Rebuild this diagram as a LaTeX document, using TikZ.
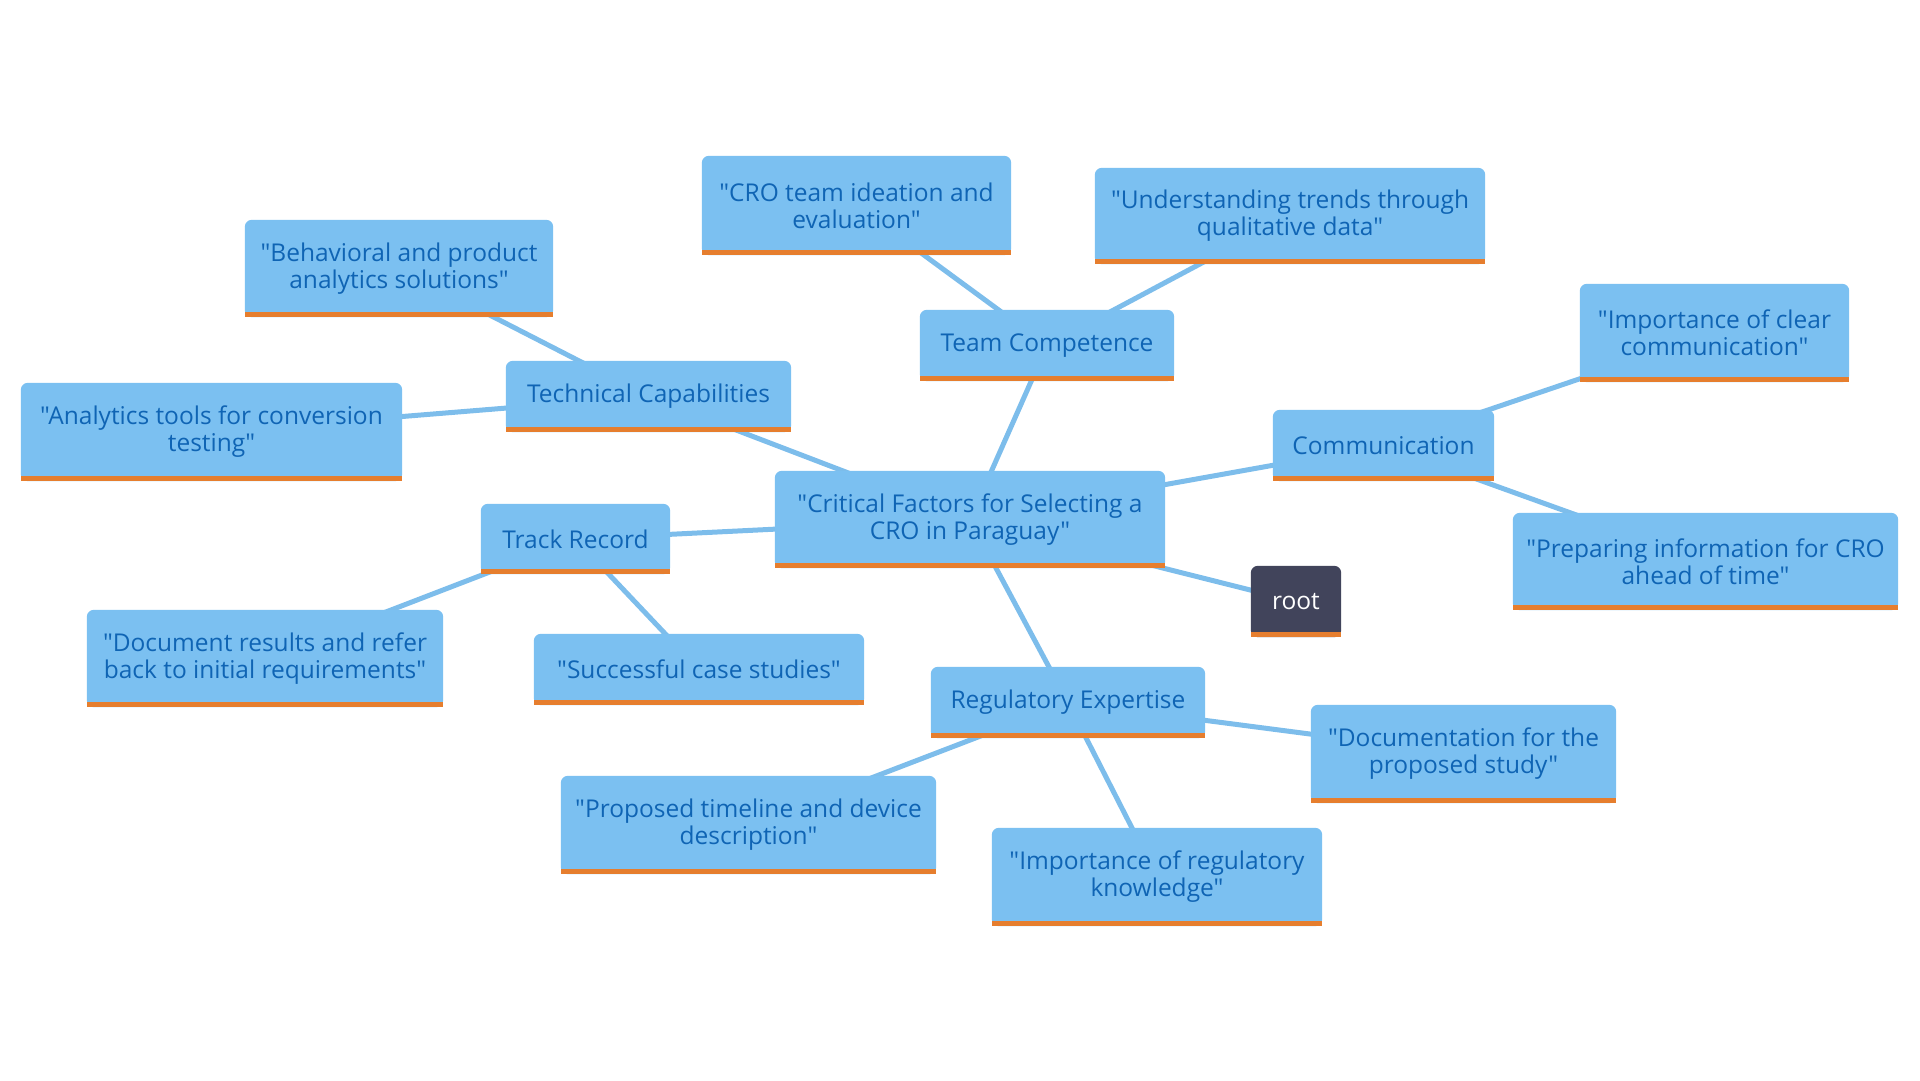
\documentclass[tikz,border=0pt]{standalone}
\usepackage{fontspec}
\setmainfont{Open Sans}[Ligatures=TeXOff]
\usetikzlibrary{backgrounds}
\definecolor{boxblue}{HTML}{7BC0F1}
\definecolor{txtblue}{HTML}{0F64B4}
\definecolor{barorange}{HTML}{E67E2E}
\definecolor{linkblue}{HTML}{7DBDEB}
\definecolor{rootfill}{HTML}{41445B}
\tikzset{
  box/.style={inner sep=0pt, align=center, text=txtblue, font=\fontsize{24.5}{27}\selectfont},
  rootbox/.style={inner sep=0pt, align=center, text=white, font=\fontsize{24.5}{27}\selectfont},
  link/.style={draw=linkblue, line width=5pt},
}
\newcommand{\boxfill}[2]{%
  \fill[#2, rounded corners=7pt] (#1.south west) rectangle (#1.north east);
  \fill[#2] (#1.south west) rectangle ([yshift=10pt]#1.south east);
  \fill[barorange] (#1.south west) rectangle ([yshift=5pt]#1.south east);
}
\begin{document}
\begin{tikzpicture}[x=1pt,y=-1pt]
\path[use as bounding box] (0,0) rectangle (1920,1080);
\node[box, minimum width=309pt, minimum height=99pt] (idea) at (856.5,205.5) {"CRO team ideation and\\evaluation"};
\node[box, minimum width=390pt, minimum height=96pt] (trends) at (1290,216) {"Understanding trends through\\qualitative data"};
\node[box, minimum width=308pt, minimum height=97pt] (behav) at (399,268.5) {"Behavioral and product\\analytics solutions"};
\node[box, minimum width=254pt, minimum height=71pt] (team) at (1047,345.5) {Team Competence};
\node[box, minimum width=269pt, minimum height=98pt] (clear) at (1714.5,333) {"Importance of clear\\communication"};
\node[box, minimum width=285pt, minimum height=71pt] (tech) at (648.5,396.5) {Technical Capabilities};
\node[box, minimum width=381pt, minimum height=98pt] (analytics) at (211.5,432) {"Analytics tools for conversion\\testing"};
\node[box, minimum width=221pt, minimum height=71pt] (comm) at (1383.5,445.5) {Communication};
\node[box, minimum width=390pt, minimum height=97pt] (center) at (970,519.5) {"Critical Factors for Selecting a\\CRO in Paraguay"};
\node[box, minimum width=189pt, minimum height=70pt] (track) at (575.5,539) {Track Record};
\node[box, minimum width=385pt, minimum height=97pt] (prep) at (1705.5,561.5) {"Preparing information for CRO\\ahead of time"};
\node[rootbox, minimum width=90pt, minimum height=71pt] (root) at (1296,601.5) {root};
\node[box, minimum width=356pt, minimum height=97pt] (doc) at (265,658.5) {"Document results and refer\\back to initial requirements"};
\node[box, minimum width=330pt, minimum height=71pt] (success) at (699,669.5) {"Successful case studies"};
\node[box, minimum width=274pt, minimum height=71pt] (reg) at (1068,702.5) {Regulatory Expertise};
\node[box, minimum width=305pt, minimum height=98pt] (docstudy) at (1463.5,754) {"Documentation for the\\proposed study"};
\node[box, minimum width=375pt, minimum height=98pt] (timeline) at (748.5,825) {"Proposed timeline and device\\description"};
\node[box, minimum width=330pt, minimum height=98pt] (regknow) at (1157,877) {"Importance of regulatory\\knowledge"};
\begin{pgfonlayer}{background}
\foreach \a/\b in {center/team, center/tech, center/track, center/comm, center/reg, center/root,
  team/idea, team/trends, tech/behav, tech/analytics, track/doc, track/success,
  comm/clear, comm/prep, reg/docstudy, reg/timeline, reg/regknow}
  \draw[link] (\a.center) -- (\b.center);
\foreach \n in {idea,trends,behav,team,clear,tech,analytics,comm,center,track,prep,doc,success,reg,docstudy,timeline,regknow}
  {\boxfill{\n}{boxblue}}
\boxfill{root}{rootfill}
\end{pgfonlayer}
\end{tikzpicture}
\end{document}
